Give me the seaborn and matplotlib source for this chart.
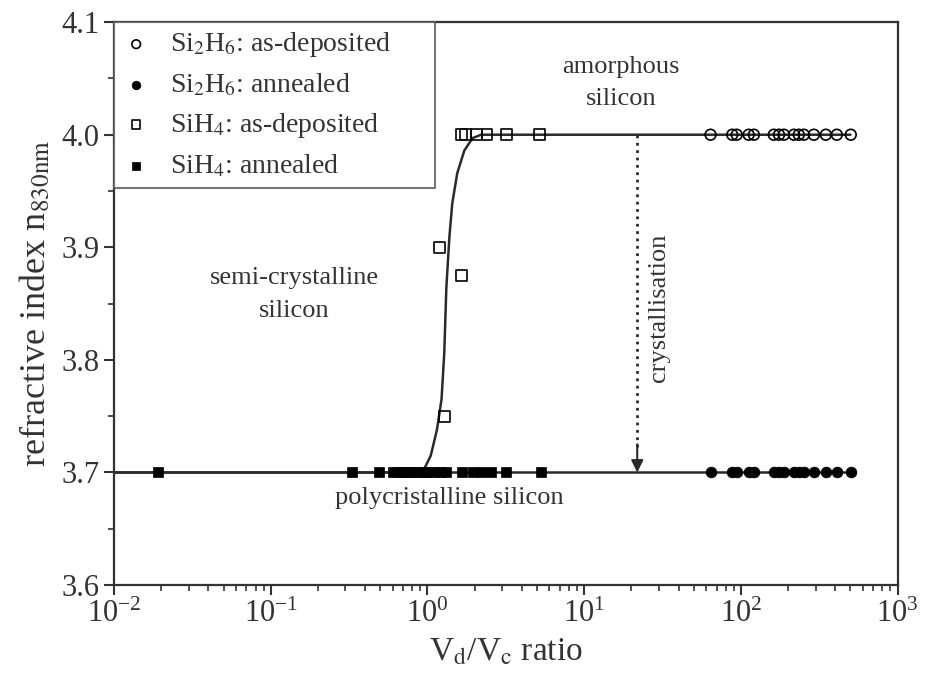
import numpy as np
import pandas as pd
import matplotlib
matplotlib.use("Agg")
import matplotlib.pyplot as plt
import seaborn as sns
from matplotlib.ticker import LogLocator, MultipleLocator

# ---------------- data ----------------
si2h6_x = [64, 88, 94, 112, 121, 162, 175, 188, 218, 234, 252, 292, 348, 409, 502]
si2h6_dep_y = [4.0] * len(si2h6_x)
si2h6_ann_y = [3.7] * len(si2h6_x)

sih4_dep_x = [1.19, 1.28, 1.65, 1.65, 1.75, 2.05, 2.4, 3.2, 5.2]
sih4_dep_y = [3.90, 3.75, 3.875, 4.0, 4.0, 4.0, 4.0, 4.0, 4.0]

sih4_ann_x = [0.019, 0.33, 0.49, 0.6, 0.65, 0.7, 0.75, 0.8, 0.88, 0.95, 1.0,
              1.1, 1.2, 1.32, 1.67, 1.94, 2.2, 2.56, 3.18, 5.3]
sih4_ann_y = [3.7] * len(sih4_ann_x)

fit_x = [0.01, 0.93, 1.05, 1.15, 1.23, 1.28, 1.32, 1.38, 1.44, 1.55, 1.72, 1.94, 2.2, 500]
fit_y = [3.7, 3.7, 3.715, 3.738, 3.765, 3.806, 3.864, 3.909, 3.939, 3.966, 3.986, 3.997, 4.0, 4.0]

base_x = [0.01, 500]
base_y = [3.7, 3.7]

labels = [r"Si$_\mathrm{2}$H$_\mathrm{6}$: as-deposited", r"Si$_\mathrm{2}$H$_\mathrm{6}$: annealed",
          r"SiH$_\mathrm{4}$: as-deposited", r"SiH$_\mathrm{4}$: annealed"]

# ---------------- style ----------------
sns.set_theme(style="ticks")
plt.rcParams["font.family"] = ["Liberation Serif", "DejaVu Serif"]
plt.rcParams["mathtext.fontset"] = "stix"
TXT = "#333333"
LINE = "#2a2a2a"

fig = plt.figure(figsize=(9.38, 6.92), dpi=100)
ax = fig.add_axes([0.1215, 0.1546, 0.8355, 0.8134])

fit_df = pd.DataFrame({"x": fit_x, "y": fit_y})
base_df = pd.DataFrame({"x": base_x, "y": base_y})
sns.lineplot(data=base_df, x="x", y="y", ax=ax, color=LINE, lw=1.8,
             estimator=None, sort=False, legend=False, zorder=1)
sns.lineplot(data=fit_df, x="x", y="y", ax=ax, color=LINE, lw=1.8,
             estimator=None, sort=False, legend=False, zorder=1)

ms = 60
sns.scatterplot(x=si2h6_x, y=si2h6_dep_y, ax=ax, marker="o", s=ms,
                facecolor="none", edgecolor="black", linewidth=1.2,
                label=labels[0], zorder=3)
sns.scatterplot(x=si2h6_x, y=si2h6_ann_y, ax=ax, marker="o", s=ms,
                color="black", edgecolor="black", linewidth=0.5,
                label=labels[1], zorder=3)
sns.scatterplot(x=sih4_dep_x, y=sih4_dep_y, ax=ax, marker="s", s=ms,
                facecolor="none", edgecolor="black", linewidth=1.2,
                label=labels[2], zorder=3)
sns.scatterplot(x=sih4_ann_x, y=sih4_ann_y, ax=ax, marker="s", s=ms,
                color="black", edgecolor="black", linewidth=0.5,
                label=labels[3], zorder=3)

ax.set_xscale("log")
ax.set_xlim(0.01, 1000)
ax.set_ylim(3.6, 4.1)
ax.xaxis.set_major_locator(LogLocator(base=10, numticks=10))
ax.xaxis.set_minor_locator(LogLocator(base=10, subs=np.arange(2, 10), numticks=20))
ax.yaxis.set_major_locator(MultipleLocator(0.1))
ax.yaxis.set_minor_locator(MultipleLocator(0.05))
ax.yaxis.set_major_formatter(matplotlib.ticker.FormatStrFormatter("%.1f"))

ax.tick_params(axis="both", which="major", direction="out", length=7, width=1.5,
               colors=TXT, labelsize=22, labelcolor=TXT)
ax.tick_params(axis="both", which="minor", direction="out", length=4, width=1.2,
               colors=TXT)
ax.tick_params(top=False, right=False, which="both")
for sp in ax.spines.values():
    sp.set_color(TXT)
    sp.set_linewidth(1.6)

ax.set_xlabel(r"V$_\mathrm{d}$/V$_\mathrm{c}$ ratio", fontsize=24, color=TXT, labelpad=6)
ax.set_ylabel(r"refractive index n$_\mathrm{830nm}$", fontsize=26, color=TXT, labelpad=6)

# annotations
ax.text(17.2, 4.046, "amorphous\nsilicon", ha="center", va="center",
        fontsize=19, color=TXT, linespacing=1.6)
ax.text(0.142, 3.858, "semi-crystalline\nsilicon", ha="center", va="center",
        fontsize=19, color=TXT, linespacing=1.6)
ax.text(1.38, 3.677, "polycristalline silicon", ha="center", va="center",
        fontsize=19, color=TXT)
ax.text(30, 3.846, "crystallisation", ha="center", va="center", rotation=90,
        fontsize=19, color=TXT)

ax.plot([21.8, 21.8], [4.0, 3.72], ls=":", color=LINE, lw=2, zorder=2)
ax.annotate("", xy=(21.8, 3.7), xytext=(21.8, 3.725),
            arrowprops=dict(arrowstyle="-|>", color=LINE, lw=1.5,
                            mutation_scale=18, shrinkA=0, shrinkB=0))

leg = ax.legend(loc="upper left", bbox_to_anchor=(0, 0.705, 0.41, 0.295),
                mode="expand", borderaxespad=0, fontsize=20, frameon=True,
                fancybox=False, edgecolor="#555555", handlelength=1.0,
                handletextpad=0.7, labelspacing=0.45, borderpad=0.3,
                markerscale=0.8)
leg.get_frame().set_linewidth(1.5)
for t in leg.get_texts():
    t.set_color(TXT)

fig.savefig("out.png", dpi=100)
